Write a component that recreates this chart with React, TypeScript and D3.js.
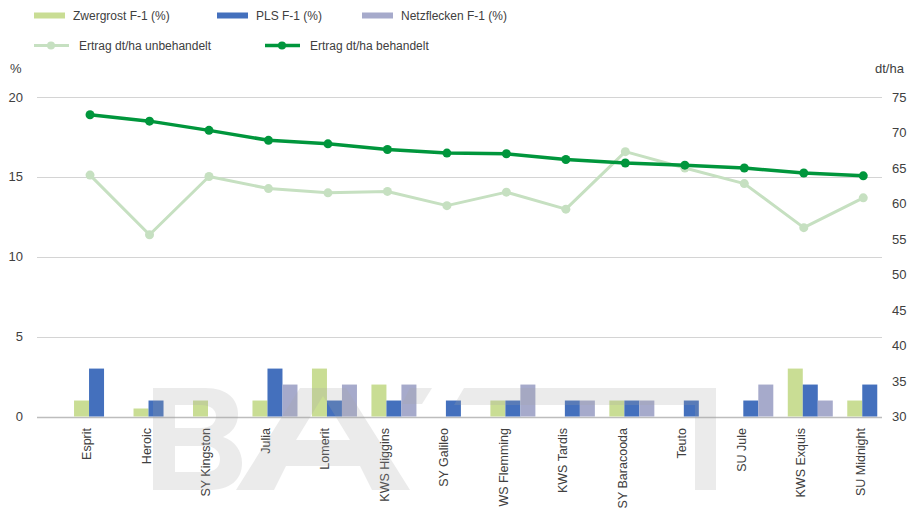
import * as d3 from "d3";
import React, { useEffect, useRef } from "react";

const categories = [
    "Esprit", "Heroic", "SY Kingston", "Julia", "Lomerit", "KWS Higgins", "SY Galileo",
    "WS Flemming", "KWS Tardis", "SY Baracooda", "Teuto", "SU Jule", "KWS Exquis", "SU Midnight",
];
const zwergrost = [1, 0.5, 1, 1, 3, 2, 0, 1, 0, 1, 0, 0, 3, 1];
const pls = [3, 1, 0, 3, 1, 1, 1, 1, 1, 1, 1, 1, 2, 2];
const netzflecken = [0, 0, 0, 2, 2, 2, 0, 2, 1, 1, 0, 2, 1, 0];
const ertragUnbehandelt = [64.0, 55.6, 63.8, 62.1, 61.5, 61.7, 59.7, 61.6, 59.2, 67.3, 65.0, 62.8, 56.6, 60.8];
const ertragBehandelt = [72.5, 71.6, 70.3, 68.9, 68.4, 67.6, 67.1, 67.0, 66.2, 65.7, 65.4, 65.0, 64.3, 63.9];
const leftTicks = [0, 5, 10, 15, 20];
const rightTicks = [30, 35, 40, 45, 50, 55, 60, 65, 70, 75];

const barSeries = [
    { name: "Zwergrost F-1 (%)", values: zwergrost, color: "#c9dd94" },
    { name: "PLS F-1 (%)", values: pls, color: "#4470bd" },
    { name: "Netzflecken F-1 (%)", values: netzflecken, color: "#a6aacb" },
];
const lineSeries = [
    { name: "Ertrag dt/ha unbehandelt", values: ertragUnbehandelt, color: "#c6e0c1", width: 3, r: 4.5 },
    { name: "Ertrag dt/ha behandelt", values: ertragBehandelt, color: "#00963c", width: 3.5, r: 4.5 },
];

const width = 908;
const height = 508;
const font = "'Liberation Sans', Arial, sans-serif";
const textColor = "#404040";

const App: React.FC = () => {
    const wrapper = useRef<SVGSVGElement>(null);

    useEffect(() => {
        if (!wrapper.current) return;
        const svg = d3.select(wrapper.current);
        svg.selectAll("*").remove();
        svg.attr("width", width).attr("height", height).attr("viewBox", [0, 0, width, height]);

        const x = d3.scaleBand<string>().domain(categories).range([60.3, 893]);
        const cx = (c: string) => (x(c) || 0) + x.bandwidth() / 2;
        const yL = d3.scaleLinear().domain([0, 20]).range([416.5, 97]);
        const yR = d3.scaleLinear().domain([30, 75]).range([416.5, 97]);
        const inner = d3.scaleBand<number>().domain([0, 1, 2]).range([0, 45]);

        // grid + left axis
        const grid = svg.append("g");
        grid.selectAll("line")
            .data(leftTicks)
            .join("line")
            .attr("x1", 37)
            .attr("x2", 882)
            .attr("y1", (d) => Math.round(yL(d)) + 0.5)
            .attr("y2", (d) => Math.round(yL(d)) + 0.5)
            .attr("stroke", (d) => (d === 0 ? "#bdbdbd" : "#d4d4d4"))
            .attr("stroke-width", d => d === 0 ? 1.5 : 1);
        grid.selectAll("text")
            .data(leftTicks)
            .join("text")
            .attr("x", 23)
            .attr("y", (d) => yL(d))
            .attr("dy", "0.35em")
            .attr("text-anchor", "end")
            .attr("font-size", 13)
            .attr("font-family", font)
            .attr("fill", textColor)
            .text((d) => d);

        const right = svg.append("g");
        right.selectAll("text")
            .data(rightTicks)
            .join("text")
            .attr("x", 892)
            .attr("y", (d) => yR(d))
            .attr("dy", "0.35em")
            .attr("font-size", 13)
            .attr("font-family", font)
            .attr("fill", textColor)
            .text((d) => d);

        svg.append("text").attr("x", 10).attr("y", 73).attr("font-size", 13)
            .attr("font-family", font).attr("fill", textColor).text("%");
        svg.append("text").attr("x", 875).attr("y", 73).attr("font-size", 13)
            .attr("font-family", font).attr("fill", textColor).text("dt/ha");

        // bars
        barSeries.forEach((s, si) => {
            svg.append("g")
                .selectAll("rect")
                .data(categories.map((c, i) => ({ c, v: s.values[i] })).filter((d) => d.v > 0))
                .join("rect")
                .attr("x", (d) => cx(d.c) - 16 + (inner(si) || 0))
                .attr("width", inner.bandwidth())
                .attr("y", (d) => yL(d.v))
                .attr("height", (d) => yL(0) - yL(d.v))
                .attr("fill", s.color);
        });

        // x labels
        svg.append("g")
            .selectAll("text")
            .data(categories)
            .join("text")
            .attr("transform", (d) => `translate(${cx(d) - 3},428) rotate(-90)`)
            .attr("dy", "0.35em")
            .attr("text-anchor", "end")
            .attr("font-size", 12.5)
            .attr("font-family", font)
            .attr("fill", textColor)
            .text((d) => d);

        // lines
        lineSeries.forEach((s) => {
            const pts: Array<[number, number]> = categories.map((c, i) => [cx(c), yR(s.values[i])]);
            svg.append("path")
                .attr("d", d3.line()(pts))
                .attr("fill", "none")
                .attr("stroke", s.color)
                .attr("stroke-width", s.width)
                .attr("stroke-linejoin", "round");
            svg.append("g")
                .selectAll("circle")
                .data(pts)
                .join("circle")
                .attr("cx", (d) => d[0])
                .attr("cy", (d) => d[1])
                .attr("r", s.r)
                .attr("fill", s.color);
        });

        // legend
        const legend = svg.append("g").attr("font-family", font).attr("font-size", 12).attr("fill", textColor);
        const barLegendX = [34, 217, 362];
        barSeries.forEach((s, i) => {
            legend.append("rect").attr("x", barLegendX[i]).attr("y", 12.5).attr("width", 31).attr("height", 6).attr("fill", s.color);
            legend.append("text").attr("x", barLegendX[i] + 39).attr("y", 16).attr("dy", "0.35em").text(s.name);
        });
        const lineLegendX = [34, 265];
        lineSeries.forEach((s, i) => {
            const lx = lineLegendX[i];
            legend.append("line").attr("x1", lx).attr("x2", lx + 35).attr("y1", 45.5).attr("y2", 45.5)
                .attr("stroke", s.color).attr("stroke-width", s.width);
            legend.append("circle").attr("cx", lx + 17).attr("cy", 45.5).attr("r", 4).attr("fill", s.color);
            legend.append("text").attr("x", lx + 45).attr("y", 45.5).attr("dy", "0.35em").text(s.name);
        });

        // watermark
        const wm = svg.append("g").attr("fill", "#a6a6a6").attr("opacity", 0.22).attr("fill-rule", "evenodd");
        wm.append("path")
            .attr("d", "M153,388 H205 C228,388 238,400 238,414 C238,425 232,433 223,437 C235,441 242,451 242,463 C242,480 230,490 208,490 H153 Z " +
                "M175,405 H201 C211,405 216,410 216,416 C216,423 211,428 201,428 H175 Z " +
                "M175,446 H205 C215,446 220,452 220,459 C220,467 215,472 205,472 H175 Z");
        wm.append("path")
            .attr("d", "M236,490 L300,388 L346,388 L410,490 L372,490 L360,466 L286,466 L274,490 Z M296,440 L323,396 L350,440 Z");
        wm.append("path")
            .attr("d", "M410,388 L432,388 L422,404 L402,404 Z M464,388 L716,388 L716,490 L695,490 L695,405 L454,405 Z");
    }, []);

    return <svg ref={wrapper} style={{ position: "absolute", left: 0, top: 0 }} />;
};

export default App;
